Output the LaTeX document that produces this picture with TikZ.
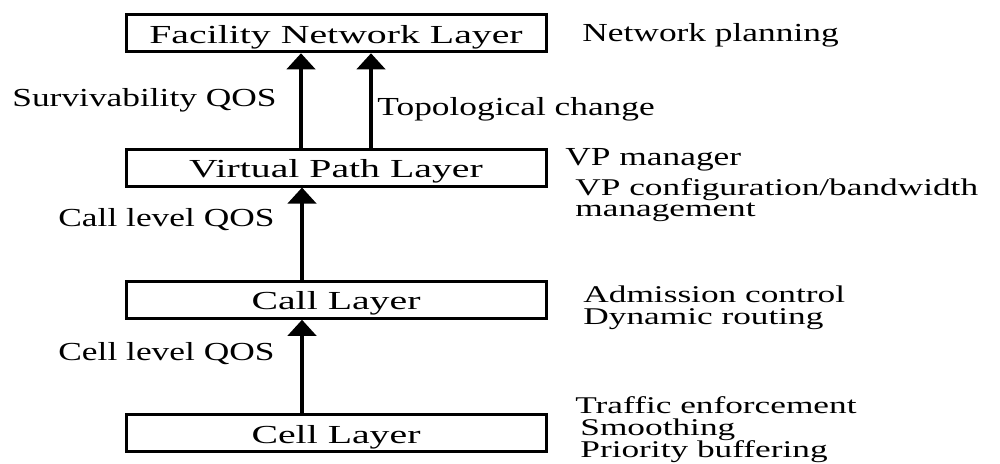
\documentclass[tikz,border=0pt]{standalone}
\usepackage{fontspec}
\setmainfont{Liberation Serif}
\newfontfamily\boxfont[FakeStretch=1.53]{Liberation Serif}
\newfontfamily\labfont[FakeStretch=1.36]{Liberation Serif}
\newfontfamily\stackfont[FakeStretch=1.47]{Liberation Serif}
\usetikzlibrary{arrows.meta}
\begin{document}
\begin{tikzpicture}[x=0.5pt,y=-0.5pt,
  layer/.style={draw, line width=1.5pt, minimum width=210pt, minimum height=18.5pt,
    inner sep=0pt, text height=9.8pt, text depth=0pt,
    font=\boxfont\fontsize{13pt}{15pt}\selectfont},
  lab/.style={anchor=base west, inner sep=0pt,
    font=\labfont\fontsize{13pt}{15pt}\selectfont},
  stk/.style={anchor=base west, inner sep=0pt,
    font=\stackfont\fontsize{12pt}{14pt}\selectfont},
  arr/.style={line width=2pt, -{Triangle[width=14pt,length=8pt]}}]
\useasboundingbox[fill=white] (0,0) rectangle (1000,463);
\node[layer] (fac)  at (336,33.25)  {Facility Network Layer};
\node[layer] (vp)   at (336,167.5)  {Virtual Path Layer};
\node[layer] (call) at (336,299.75) {Call Layer};
\node[layer] (cell) at (336,433.25) {Cell Layer};
\draw[arr] ([xshift=-17.5pt]vp.north) -- ([xshift=-17.5pt]fac.south);
\draw[arr] ([xshift=17.5pt]vp.north) -- ([xshift=17.5pt]fac.south);
\draw[arr] ([xshift=-17pt]call.north) -- ([xshift=-17pt]vp.south);
\draw[arr] ([xshift=-17pt]cell.north) -- ([xshift=-17pt]call.south);
\node[lab] (surv)  at (12,106.7)  {Survivability QOS};
\node[lab] (topo)  at (377,115)   {Topological change};
\node[lab] (np)    at (582,41.7)  {Network planning};
\node[lab] (vpm)   at (565,165)   {VP manager};
\node[stk] (vpc)   at (575,195)   {VP configuration/bandwidth};
\node[stk] (mgmt)  at (575,216)   {management};
\node[lab] (callq) at (58,226.7)  {Call level QOS};
\node[stk] (adm)   at (583,302)   {Admission control};
\node[stk] (dyn)   at (583,324)   {Dynamic routing};
\node[lab] (cellq) at (58,360)    {Cell level QOS};
\node[stk] (traf)  at (575,413)   {Traffic enforcement};
\node[stk] (smo)   at (580,435)   {Smoothing};
\node[stk] (pri)   at (580,457)   {Priority buffering};
\end{tikzpicture}
\end{document}
